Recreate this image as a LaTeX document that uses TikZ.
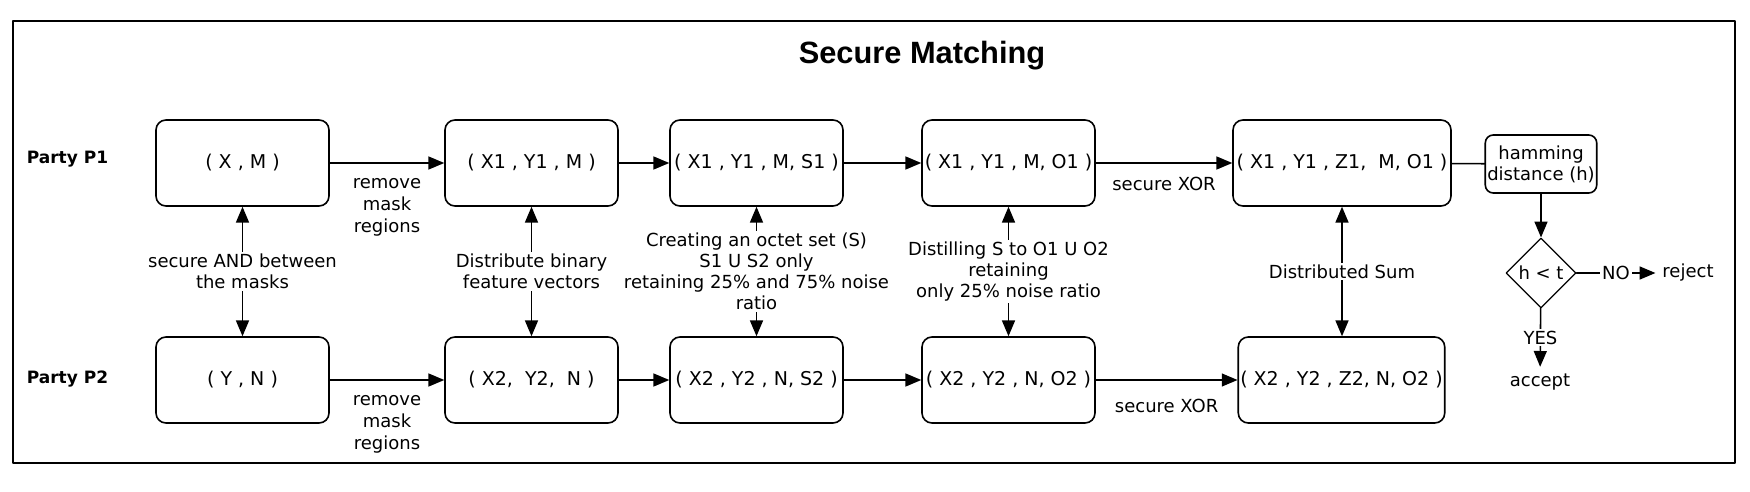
\documentclass[tikz,border=0pt]{standalone}
\usepackage{fontspec}
\setmainfont{DejaVu Sans}
\newfontfamily\titlefont{Liberation Sans}
\usepackage{tikz}
\usetikzlibrary{arrows}
\usetikzlibrary{shapes.geometric}

\begin{document}
\begin{tikzpicture}[line cap=round,line join=round,>=triangle 45,x=0.5pt,y=-0.5pt,
  matchbox/.style={draw,line width=0.8pt,rounded corners=5pt,minimum width=86.5pt,minimum height=43pt,inner xsep=1pt,font=\fontsize{9.5}{11}\selectfont},
  lbl/.style={font=\fontsize{9}{10.5}\selectfont,align=center},
  party/.style={font=\bfseries\fontsize{8.5}{10}\selectfont},
  link/.style={->,line width=0.8pt},
  share/.style={<->,line width=0.8pt}]
\useasboundingbox (0,0) rectangle (1750,492);
\draw [line width=0.8pt] (13,21) rectangle (1735,463);
\node[font=\titlefont\bfseries\fontsize{15.4}{18}\selectfont] (title) at (922,56) {Secure Matching};
\node[party] (p1) at (67.5,159) {Party P1};
\node[party] (p2) at (67.5,379) {Party P2};
% party P1
\node[matchbox] (a1) at (242.5,163) {( X , M )};
\node[matchbox] (b1) at (531.5,163) {( X1 , Y1 , M )};
\node[matchbox] (c1) at (756.5,163) {( X1 , Y1 , M, S1 )};
\node[matchbox] (d1) at (1008.5,163) {( X1 , Y1 , M, O1 )};
\node[matchbox,minimum width=109pt] (e1) at (1342,163) {( X1 , Y1 , Z1,~ M, O1 )};
% party P2
\node[matchbox] (a2) at (242.5,380) {( Y , N )};
\node[matchbox] (b2) at (531.5,380) {( X2,~ Y2,~ N )};
\node[matchbox] (c2) at (756.5,380) {( X2 , Y2 , N, S2 )};
\node[matchbox] (d2) at (1008.5,380) {( X2 , Y2 , N, O2 )};
\node[matchbox,minimum width=100.5pt] (e2) at (1341.5,380) {( X2 , Y2 , Z2, N, O2 )};
% decision
\node[draw,line width=0.8pt,rounded corners=4pt,minimum width=54pt,minimum height=29pt,inner sep=1pt,lbl] (ham) at (1541,164) {hamming\\distance (h)};
\node[draw,diamond,line width=0.6pt,minimum size=35pt,inner sep=0pt,lbl] (cmp) at (1541,273) {h < t};
\node[lbl] (rej) at (1688,273) {reject};
\node[lbl] (acc) at (1540,382) {accept};
% connectors
\draw[link] (a1) -- node[lbl,below=4pt,font=\fontsize{9}{11}\selectfont] {remove\\mask\\regions} (b1);
\draw[link] (a2) -- node[lbl,below=4pt,font=\fontsize{9}{11}\selectfont] {remove\\mask\\regions} (b2);
\draw[link] (b1) -- (c1);
\draw[link] (b2) -- (c2);
\draw[link] (c1) -- (d1);
\draw[link] (c2) -- (d2);
\draw[link] (d1) -- node[lbl,below=3.5pt] {secure XOR} (e1);
\draw[link] (d2) -- node[lbl,below=6pt] {secure XOR} (e2);
\draw[share] (a1) -- node[lbl,fill=white,inner sep=1pt] {secure AND between\\the masks} (a2);
\draw[share] (b1) -- node[lbl,fill=white,inner sep=1pt] {Distribute binary\\feature vectors} (b2);
\draw[share] (c1) -- node[lbl,fill=white,inner sep=1pt] {Creating an octet set (S)\\S1 U S2 only\\retaining 25\% and 75\% noise\\ratio} (c2);
\draw[share] (d1) -- node[lbl,fill=white,inner sep=1pt] {Distilling S to O1 U O2\\retaining\\only 25\% noise ratio} (d2);
\draw[share] (e1) -- node[lbl,fill=white,inner sep=1pt] {Distributed Sum} (e1 |- e2.north);
\draw[line width=0.8pt] (e1) -- (ham);
\draw[link] (ham) -- (cmp);
\draw[link] (cmp) -- node[lbl,fill=white,inner sep=1pt] {NO} (rej);
\draw[link] (cmp) -- node[lbl,fill=white,inner sep=1pt] {YES} (acc);
\end{tikzpicture}
\end{document}
